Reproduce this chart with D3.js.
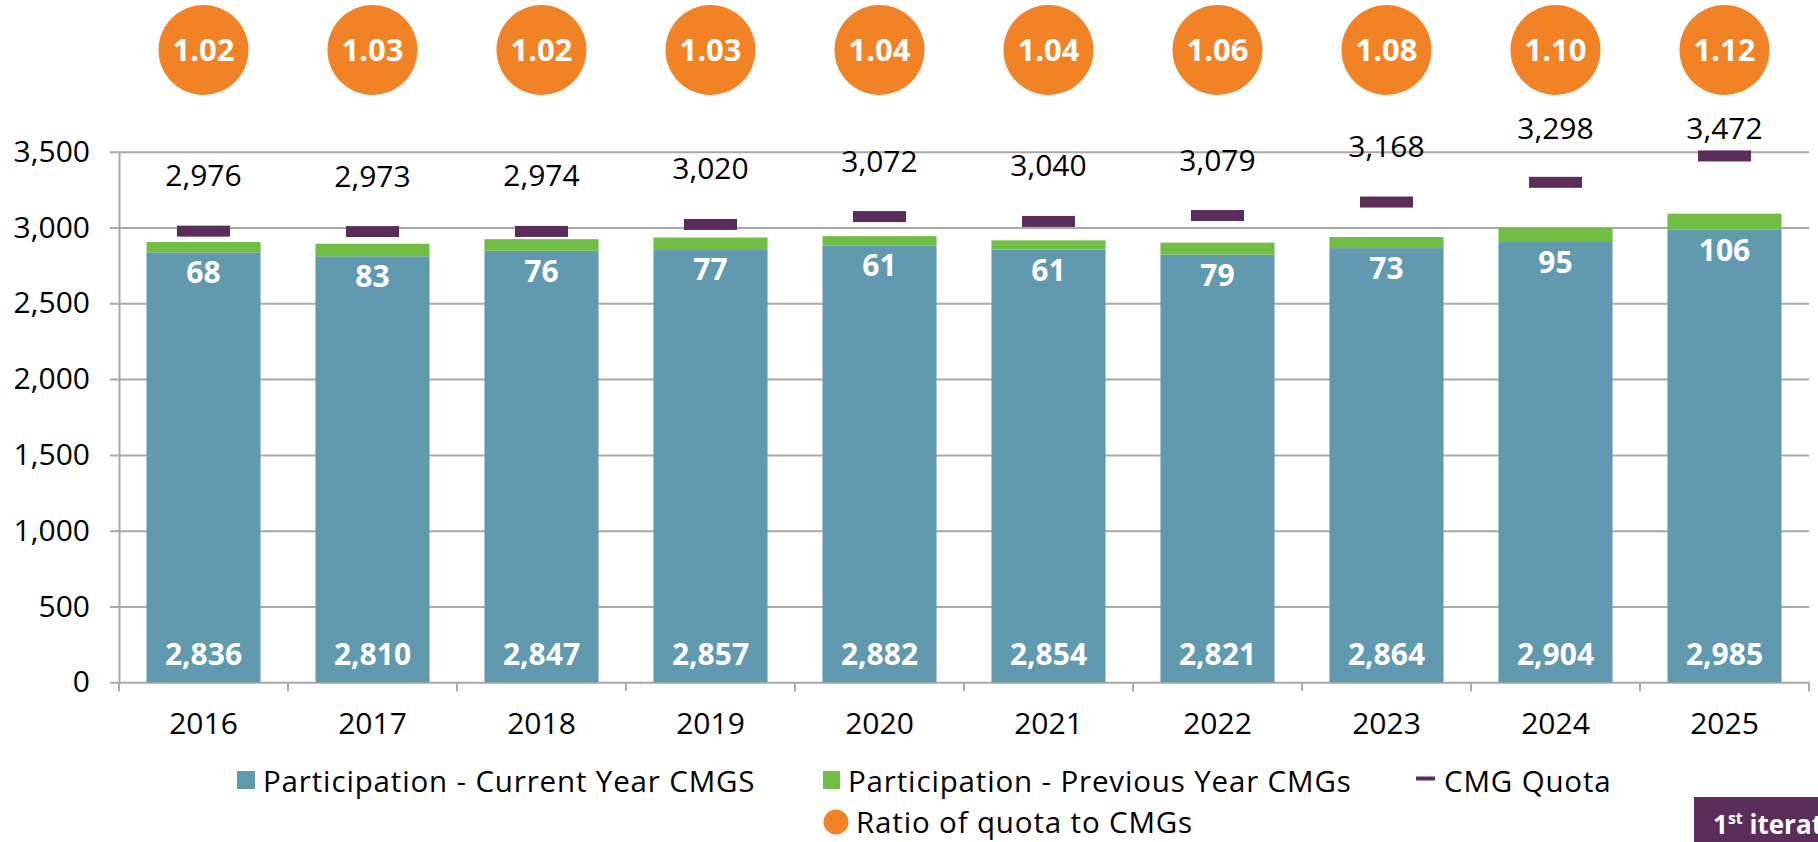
<!DOCTYPE html>
<html lang="en">
  <head>
    <meta charset="utf-8" />
    <script src="https://d3js.org/d3.v7.min.js"></script>
    <style type="text/css">
      body {
        margin: 0;
        background-color: white;
      }
      svg#chart {
        display: block;
        font-family: "Open Sans", sans-serif;
      }
    </style>
  </head>

  <body>
    <svg id="chart" width="1818" height="842"></svg>

    <script>
      // values
      let years = ["2016", "2017", "2018", "2019", "2020", "2021", "2022", "2023", "2024", "2025"];
      let currentYear = [2836, 2810, 2847, 2857, 2882, 2854, 2821, 2864, 2904, 2985];
      let previousYear = [68, 83, 76, 77, 61, 61, 79, 73, 95, 106];
      let quota = [2976, 2973, 2974, 3020, 3072, 3040, 3079, 3168, 3298, 3472];
      let ratio = [1.02, 1.03, 1.02, 1.03, 1.04, 1.04, 1.06, 1.08, 1.1, 1.12];
      let yTicks = [0, 500, 1000, 1500, 2000, 2500, 3000, 3500];

      let colBlue = "#6199af";
      let colGreen = "#72bd43";
      let colPurple = "#5b2d5b";
      let colOrange = "#f28226";
      let colGrid = "#a9a9a9";

      let svg = d3.select("#chart");
      let fmt = d3.format(",");

      let plotLeft = 119, plotRight = 1809, plotTop = 151.7, plotBottom = 682.3;

      let x = d3.scaleBand(years, [plotLeft, plotRight]).paddingInner(0.325).paddingOuter(0.1625);
      let y = d3.scaleLinear([0, 3500], [plotBottom, plotTop]);

      // gridlines + y axis
      let yAxis = d3.axisLeft(y).tickValues(yTicks).tickFormat(fmt)
        .tickSize(-(plotRight - plotLeft)).tickSizeOuter(0).tickPadding(20);
      let gy = svg.append("g").attr("transform", "translate(" + plotLeft + ",0)").call(yAxis);
      gy.select(".domain").attr("stroke", colGrid).attr("stroke-width", 2);
      gy.selectAll(".tick line").attr("stroke", colGrid).attr("stroke-width", 2).attr("x1", -9);
      gy.selectAll(".tick text")
        .attr("font-size", 30).attr("fill", "black").attr("x", -29)
        .attr("font-family", "Open Sans");

      // x axis ticks at band boundaries
      let bounds = years.map(function (d) { return x(d) - x.step() * 0.1625; }).concat([plotRight]);
      svg.append("g").selectAll("line").data(bounds).enter().append("line")
        .attr("x1", function (d) { return d; }).attr("x2", function (d) { return d; })
        .attr("y1", plotBottom).attr("y2", plotBottom + 9)
        .attr("stroke", colGrid).attr("stroke-width", 2);
      svg.append("g").selectAll("text").data(years).enter().append("text")
        .attr("x", function (d) { return x(d) + x.bandwidth() / 2; })
        .attr("y", 734)
        .attr("text-anchor", "middle").attr("font-size", 30)
        .text(function (d) { return d; });

      // stacked bars
      let bars = svg.append("g");
      bars.selectAll("rect.cur").data(years).enter().append("rect")
        .attr("x", function (d) { return x(d); })
        .attr("width", x.bandwidth())
        .attr("y", function (d, i) { return y(currentYear[i]); })
        .attr("height", function (d, i) { return y(0) - y(currentYear[i]); })
        .attr("fill", colBlue);
      bars.selectAll("rect.prev").data(years).enter().append("rect")
        .attr("x", function (d) { return x(d); })
        .attr("width", x.bandwidth())
        .attr("y", function (d, i) { return y(currentYear[i] + previousYear[i]); })
        .attr("height", function (d, i) { return y(currentYear[i]) - y(currentYear[i] + previousYear[i]); })
        .attr("fill", colGreen);

      // labels in bars
      bars.selectAll("text.cur").data(years).enter().append("text")
        .attr("x", function (d) { return x(d) + x.bandwidth() / 2; })
        .attr("y", plotBottom - 17)
        .attr("text-anchor", "middle").attr("font-size", 30).attr("font-weight", "bold")
        .attr("fill", "white")
        .text(function (d, i) { return fmt(currentYear[i]); });
      bars.selectAll("text.prev").data(years).enter().append("text")
        .attr("x", function (d) { return x(d) + x.bandwidth() / 2; })
        .attr("y", function (d, i) { return y(currentYear[i]) + 31; })
        .attr("text-anchor", "middle").attr("font-size", 30).attr("font-weight", "bold")
        .attr("fill", "white")
        .text(function (d, i) { return previousYear[i]; });

      // quota markers
      let q = svg.append("g");
      q.selectAll("rect").data(years).enter().append("rect")
        .attr("x", function (d) { return x(d) + x.bandwidth() / 2 - 26.5; })
        .attr("y", function (d, i) { return y(quota[i]) - 5.5; })
        .attr("width", 53).attr("height", 11)
        .attr("fill", colPurple);
      q.selectAll("text").data(years).enter().append("text")
        .attr("x", function (d) { return x(d) + x.bandwidth() / 2; })
        .attr("y", function (d, i) { return Math.max(y(quota[i]) - 45, 139); })
        .attr("text-anchor", "middle").attr("font-size", 30)
        .text(function (d, i) { return fmt(quota[i]); });

      // ratio bubbles
      let r = svg.append("g");
      r.selectAll("circle").data(years).enter().append("circle")
        .attr("cx", function (d) { return x(d) + x.bandwidth() / 2; })
        .attr("cy", 50).attr("r", 45)
        .attr("fill", colOrange);
      r.selectAll("text").data(years).enter().append("text")
        .attr("x", function (d) { return x(d) + x.bandwidth() / 2; })
        .attr("y", 61)
        .attr("text-anchor", "middle").attr("font-size", 31).attr("font-weight", "bold")
        .attr("fill", "white")
        .text(function (d, i) { return ratio[i].toFixed(2); });

      // legend
      let lg = svg.append("g").attr("font-size", 29.5).attr("letter-spacing", 0.85);
      lg.append("rect").attr("x", 237).attr("y", 771).attr("width", 18).attr("height", 18).attr("fill", colBlue);
      lg.append("text").attr("x", 263).attr("y", 792).text("Participation - Current Year CMGS");
      lg.append("rect").attr("x", 823).attr("y", 771).attr("width", 17).attr("height", 18).attr("fill", colGreen);
      lg.append("text").attr("x", 848).attr("y", 792).text("Participation - Previous Year CMGs");
      lg.append("rect").attr("x", 1416).attr("y", 776.5).attr("width", 19).attr("height", 4).attr("fill", colPurple);
      lg.append("text").attr("x", 1444).attr("y", 792).text("CMG Quota");
      lg.append("circle").attr("cx", 836).attr("cy", 822).attr("r", 12.5).attr("fill", colOrange);
      lg.append("text").attr("x", 856).attr("y", 833).text("Ratio of quota to CMGs");

      // iteration tag, bottom right (cut off by the page edge, as in the source)
      svg.append("rect").attr("x", 1694).attr("y", 797).attr("width", 200).attr("height", 50).attr("fill", colPurple);
      let tag = svg.append("text").attr("x", 1713).attr("y", 834)
        .attr("font-size", 26).attr("font-weight", "bold").attr("fill", "white");
      tag.append("tspan").text("1");
      tag.append("tspan").attr("font-size", 16).attr("dy", -10).text("st");
      tag.append("tspan").attr("dy", 10).text(" iteration");
    </script>
  </body>
</html>
